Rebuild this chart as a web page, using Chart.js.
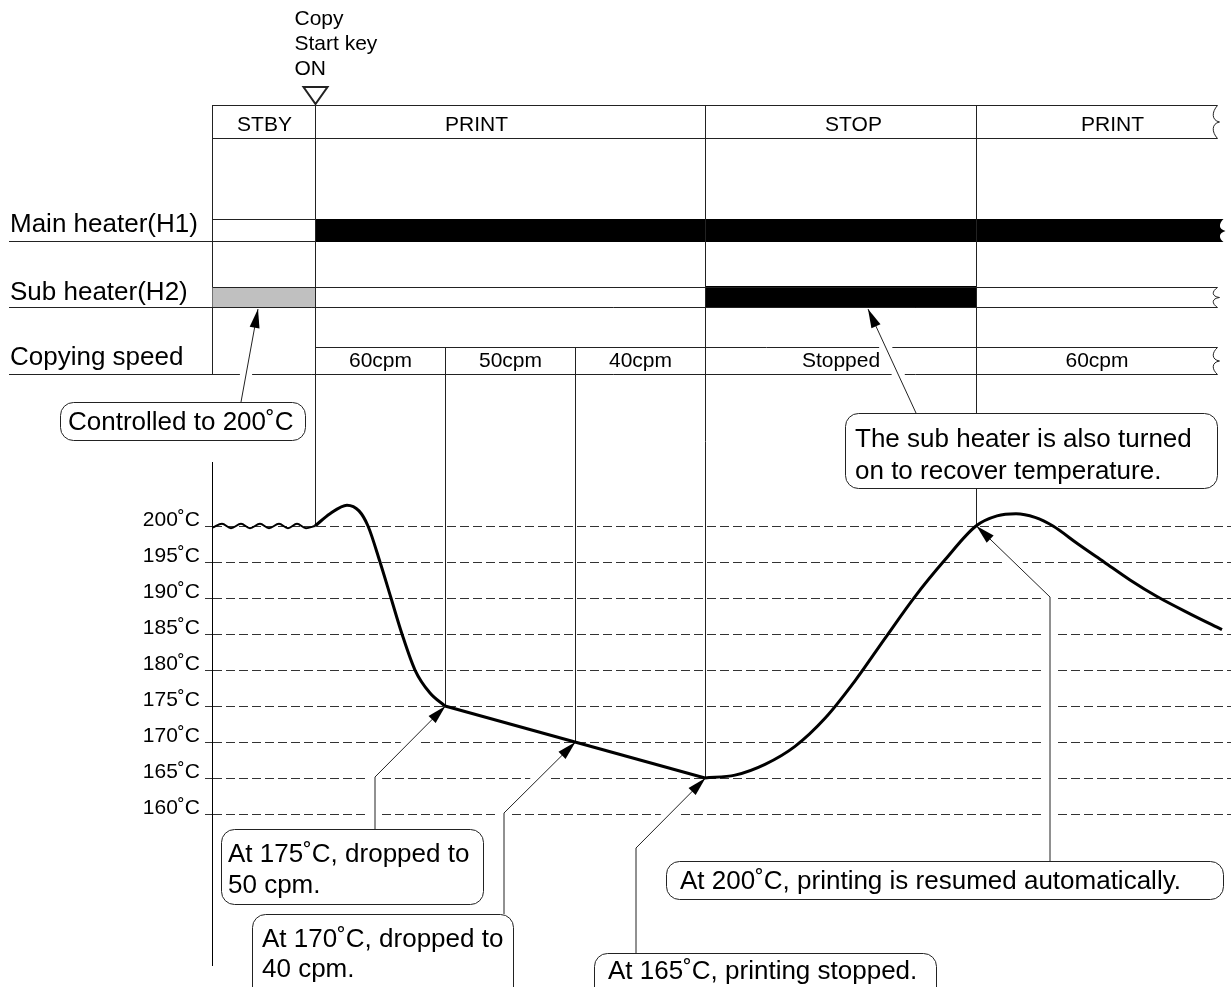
<!DOCTYPE html>
<html>
<head>
<meta charset="utf-8">
<script src="https://cdn.jsdelivr.net/npm/chart.js@4.4.1/dist/chart.umd.min.js"></script>
<style>
  html, body { margin: 0; padding: 0; background: #fff; }
  #wrap { width: 1231px; height: 987px; }
</style>
</head>
<body>
<div id="wrap"><canvas id="mycanvas" width="1231" height="987"></canvas></div>
<script>
// time axis in arbitrary units, 0 = Copy Start key ON
var startKeyLabel = ['Copy', 'Start key', 'ON'];
var rowLabels = ['Main heater(H1)', 'Sub heater(H2)', 'Copying speed'];

var phaseLabels = ['STBY', 'PRINT', 'STOP', 'PRINT'];
var phaseStart = [-10.3, 0, 39, 66.1];
var phaseEnd = [0, 39, 66.1, 90.2];
var phaseLabelAt = [-5.1, 16.1, 53.8, 79.7];

var speedLabels = ['60cpm', '50cpm', '40cpm', 'Stopped', '60cpm'];
var speedStart = [0, 13, 26, 39, 66.1];
var speedEnd = [13, 26, 39, 66.1, 90.2];

var mainHeaterOn = [0, 90.8];
var subHeaterCtrl = [-10.3, 0];
var subHeaterOn = [39, 66.1];

var tempTicks = [160, 165, 170, 175, 180, 185, 190, 195, 200];

// fixing temperature (deg C)
var standbyTime = [-10.2, -9.3, -8.4, -7.4, -6.5, -5.5, -4.6, -3.6, -2.7, -1.8, -0.9, 0];
var standbyTemp = [199.8, 200.3, 199.7, 200.3, 199.7, 200.3, 199.7, 200.3, 199.7, 200.3, 199.7, 200];
var dropTime = [0, 1.5, 3.2, 4.4, 5.3, 6.5, 7.6, 8.7, 10.0, 11.5, 13];
var dropTemp = [200, 201.7, 202.9, 202.1, 200, 195, 190, 185, 180, 176.8, 175];
var slowTime = [13, 26, 39];
var slowTemp = [175, 170, 165];
var recoverTime = [39, 42, 45, 48, 51, 54, 57, 60, 63, 66.1, 68.2, 70.1, 72.0, 73.8, 76.3, 78.9, 81.5, 84.2, 87.5, 90.7];
var recoverTemp = [165, 165.4, 166.9, 169.4, 173.3, 178.5, 184.4, 190.2, 195.3, 200, 201.4, 201.7, 201.2, 200, 197.5, 195, 192.5, 190.2, 187.8, 185.6];

// points where the process changes
var eventTime = [0, 13, 26, 39, 66.1];
var eventTemp = [200, 175, 170, 165, 200];

var noteText = [
  ['Controlled to 200˚C'],
  ['The sub heater is also turned', 'on to recover temperature.'],
  ['At 175˚C, dropped to', '50 cpm.'],
  ['At 170˚C, dropped to', '40 cpm.'],
  ['At 165˚C, printing stopped.'],
  ['At 200˚C, printing is resumed automatically.']
];

function pts(ts, vs) {
  var out = [];
  for (var i in ts) out.push({x: ts[i], y: vs[i]});
  return out;
}

var FONT = '"Liberation Sans", Arial, sans-serif';

function hline(ctx, x1, x2, y) {
  ctx.beginPath(); ctx.moveTo(x1, y + 0.5); ctx.lineTo(x2, y + 0.5); ctx.stroke();
}
function vline(ctx, x, y1, y2) {
  ctx.beginPath(); ctx.moveTo(x, y1); ctx.lineTo(x, y2); ctx.stroke();
}
function squiggle(ctx, x, y1, y2) {
  var h = y2 - y1;
  ctx.beginPath();
  ctx.moveTo(x, y1);
  ctx.bezierCurveTo(x - 6, y1 + h * 0.2, x - 6, y1 + h * 0.45, x + 2, y1 + h * 0.5);
  ctx.bezierCurveTo(x - 6, y1 + h * 0.55, x - 6, y1 + h * 0.8, x, y2);
  ctx.stroke();
}

// boxes for the notes (layout only)
var noteLayout = [
  {x: 60, y: 402, w: 245, h: 38, tx: 68, base: [430], lead: [[241, 402]], tip: [258, 309]},
  {x: 845, y: 413, w: 372, h: 75, tx: 855, base: [447, 479], lead: [[916, 413]], tip: [868, 309]},
  {x: 221, y: 829, w: 262, h: 75, tx: 228, base: [862, 893], lead: [[375, 829], [375, 777]], ev: 1},
  {x: 252, y: 914, w: 261, h: 90, tx: 262, base: [947, 977], lead: [[504, 914], [504, 813]], ev: 2},
  {x: 594, y: 953, w: 342, h: 50, tx: 608, base: [979], lead: [[636, 953], [636, 848]], ev: 3},
  {x: 666, y: 861, w: 557, h: 38, tx: 680, base: [889], lead: [[1050, 861], [1050, 597]], ev: 4}
];

var diagram = {
  id: 'diagram',
  beforeDatasetsDraw: function(chart) {
    var ctx = chart.ctx;
    var xs = chart.scales.x, ys = chart.scales.y;
    function px(t) { return Math.round(xs.getPixelForValue(t)) + 0.5; }
    function py(v) { return Math.round(ys.getPixelForValue(v)); }
    var left = px(phaseStart[0]);
    var tEnd = px(phaseEnd[phaseEnd.length - 1]);

    ctx.save();
    ctx.lineWidth = 1;
    ctx.strokeStyle = '#222';
    ctx.fillStyle = '#000';
    ctx.textBaseline = 'alphabetic';

    // start key marker
    var kx = px(eventTime[0]);
    ctx.font = '21px ' + FONT;
    ctx.textAlign = 'left';
    for (var i = 0; i < startKeyLabel.length; i++) ctx.fillText(startKeyLabel[i], kx - 21, 25 + i * 25);
    ctx.lineWidth = 2;
    ctx.beginPath();
    ctx.moveTo(kx - 12, 87); ctx.lineTo(kx + 12, 87); ctx.lineTo(kx, 104); ctx.closePath();
    ctx.stroke();
    ctx.lineWidth = 1;

    // header row
    hline(ctx, left, tEnd, 105);
    hline(ctx, left, tEnd, 138);
    squiggle(ctx, tEnd, 105.5, 138.5);
    vline(ctx, left, 105, 374);
    ctx.textAlign = 'center';
    for (var i = 0; i < phaseLabels.length; i++) {
      ctx.fillText(phaseLabels[i], px(phaseLabelAt[i]), 131);
    }

    // main heater
    ctx.font = '26px ' + FONT;
    ctx.textAlign = 'left';
    ctx.fillText(rowLabels[0], 10, 232);
    var m0 = px(mainHeaterOn[0]) - 0.5, m1 = px(mainHeaterOn[1]);
    hline(ctx, left, m0, 219);
    hline(ctx, 9, m0, 241);
    ctx.beginPath();
    ctx.moveTo(m0, 219);
    ctx.lineTo(m1, 219);
    ctx.bezierCurveTo(m1 - 5, 224, m1 - 5, 229, m1 + 2, 231);
    ctx.bezierCurveTo(m1 - 5, 233, m1 - 5, 238, m1, 242);
    ctx.lineTo(m0, 242);
    ctx.closePath();
    ctx.fill();

    // sub heater
    ctx.fillText(rowLabels[1], 10, 300);
    ctx.fillStyle = '#c0c0c0';
    ctx.fillRect(px(subHeaterCtrl[0]), 287, px(subHeaterCtrl[1]) - px(subHeaterCtrl[0]), 21);
    ctx.fillStyle = '#000';
    ctx.fillRect(px(subHeaterOn[0]) - 0.5, 286, px(subHeaterOn[1]) - px(subHeaterOn[0]) + 1, 22);
    hline(ctx, left, tEnd, 287);
    hline(ctx, 9, tEnd, 307);
    squiggle(ctx, tEnd, 287.5, 307.5);

    // copying speed
    ctx.fillText(rowLabels[2], 10, 365);
    hline(ctx, px(speedStart[0]), tEnd, 347);
    hline(ctx, 9, tEnd, 374);
    squiggle(ctx, tEnd, 347.5, 374.5);
    ctx.font = '21px ' + FONT;
    ctx.textAlign = 'center';
    for (var i = 0; i < speedLabels.length; i++) {
      ctx.fillText(speedLabels[i], (px(speedStart[i]) + px(speedEnd[i])) / 2, 367);
    }

    // event lines down to the temperature curve
    for (var i = 0; i < eventTime.length; i++) {
      var top = phaseStart.indexOf(eventTime[i]) >= 0 ? 105 : 347;
      vline(ctx, px(eventTime[i]), top, py(eventTemp[i]));
    }

    // notes: halo, leader, arrow, box, text
    for (var n = 0; n < noteLayout.length; n++) {
      var L = noteLayout[n];
      var tip = L.ev !== undefined ? [px(eventTime[L.ev]), py(eventTemp[L.ev])] : L.tip;
      var path = L.lead.concat([tip]);
      var prev = path[path.length - 2];
      var dx = tip[0] - prev[0], dy = tip[1] - prev[1];
      var len = Math.sqrt(dx * dx + dy * dy);
      var ux = dx / len, uy = dy / len;
      var cut = [tip[0] - ux * 22, tip[1] - uy * 22];

      ctx.save();
      ctx.strokeStyle = '#fff';
      ctx.lineWidth = 12;
      ctx.beginPath();
      ctx.moveTo(path[0][0], path[0][1]);
      for (var k = 1; k < path.length - 1; k++) ctx.lineTo(path[k][0], path[k][1]);
      ctx.lineTo(cut[0], cut[1]);
      ctx.stroke();
      ctx.restore();

      ctx.beginPath();
      ctx.moveTo(path[0][0], path[0][1]);
      for (var k = 1; k < path.length; k++) ctx.lineTo(path[k][0], path[k][1]);
      ctx.stroke();

      var bx = tip[0] - ux * 19, by = tip[1] - uy * 19;
      ctx.beginPath();
      ctx.moveTo(tip[0], tip[1]);
      ctx.lineTo(bx - uy * 5, by + ux * 5);
      ctx.lineTo(bx + uy * 5, by - ux * 5);
      ctx.closePath();
      ctx.fill();

      ctx.fillStyle = '#fff';
      ctx.beginPath();
      ctx.roundRect(L.x + 0.5, L.y + 0.5, L.w, L.h, 13);
      ctx.fill();
      ctx.stroke();
      ctx.fillStyle = '#000';
      ctx.font = '26px ' + FONT;
      ctx.textAlign = 'left';
      for (var k = 0; k < noteText[n].length; k++) ctx.fillText(noteText[n][k], L.tx, L.base[k]);
    }
    ctx.restore();
  }
};

var curveStyle = {
  borderColor: '#000',
  borderWidth: 3,
  pointRadius: 0,
  fill: false,
  cubicInterpolationMode: 'monotone'
};

var ctx = document.getElementById('mycanvas');
var chart = new Chart(ctx, {
  type: 'line',
  data: {
    datasets: [
      Object.assign({}, curveStyle, {label: 'Standby', data: pts(standbyTime, standbyTemp), borderWidth: 2}),
      Object.assign({}, curveStyle, {label: 'Print start', data: pts(dropTime, dropTemp)}),
      Object.assign({}, curveStyle, {label: 'Slow down', data: pts(slowTime, slowTemp), cubicInterpolationMode: 'default', tension: 0}),
      Object.assign({}, curveStyle, {label: 'Recover', data: pts(recoverTime, recoverTemp)})
    ]
  },
  options: {
    responsive: false,
    animation: false,
    devicePixelRatio: 1,
    layout: { padding: { top: 462, right: 0, bottom: 22, left: 0 } },
    plugins: { legend: { display: false }, tooltip: { enabled: false } },
    scales: {
      x: { type: 'linear', min: -10.3, max: 91.6, display: false },
      y: {
        type: 'linear',
        min: 139.03,
        max: 208.89,
        afterBuildTicks: function(scale) {
          scale.ticks = tempTicks.map(function(v) { return {value: v}; });
        },
        afterFit: function(scale) { scale.width = 212; },
        ticks: {
          callback: function(v) { return v + '˚C'; },
          color: '#000',
          font: { family: FONT, size: 21 },
          padding: 5,
          labelOffset: -6
        },
        grid: { color: '#333', lineWidth: 1, tickLength: 7 },
        border: { display: true, color: '#000', width: 1, dash: [9, 4] }
      }
    }
  },
  plugins: [diagram]
});
</script>
</body>
</html>
